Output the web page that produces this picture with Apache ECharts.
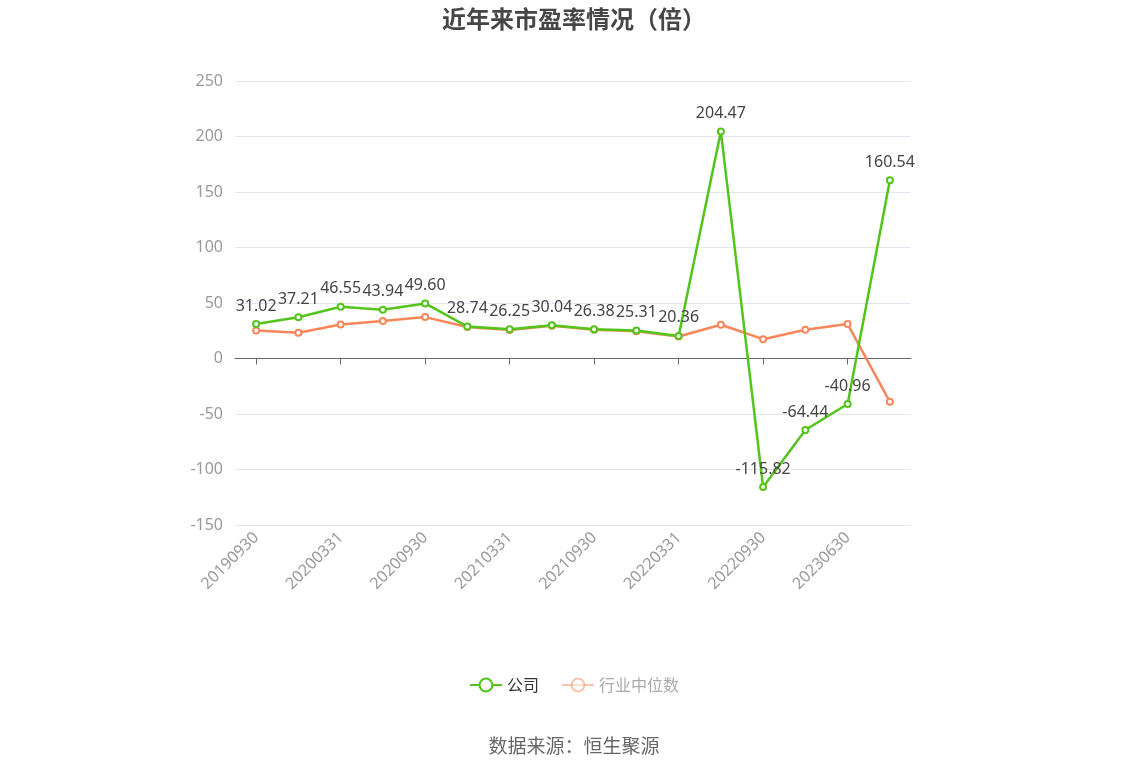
<!DOCTYPE html>
<html><head><meta charset="utf-8">
<script src="https://cdn.jsdelivr.net/npm/echarts@6/dist/echarts.min.js"></script>
<style>html,body{margin:0;padding:0;background:#fff}#c{width:1148px;height:776px}</style>
</head><body><div id="c"></div>
<script>
const categories = ['20190930','20191231','20200331','20200630','20200930','20201231','20210331','20210630','20210930','20211231','20220331','20220630','20220930','20230331','20230630','20230930'];
const companyPE = [31.02,37.21,46.55,43.94,49.60,28.74,26.25,30.04,26.38,25.31,20.36,204.47,-115.82,-64.44,-40.96,160.54];
const industryPE = [25.3,23.2,30.7,33.7,37.3,28.3,25.6,29.5,25.9,24.6,19.8,30.4,17.4,25.9,31.0,-39.0];
const yTicks = {min:-150, max:250, interval:50};

const chart = echarts.init(document.getElementById('c'));
chart.setOption({
  animation:false,
  title:{text:'近年来市盈率情况（倍）',left:'center',top:2,textStyle:{fontSize:24,fontWeight:'bold',color:'#464646',fontFamily:'Noto Sans CJK SC'}},
  grid:{left:235,right:237,top:81,bottom:251,containLabel:false},
  legend:{top:672,left:'center',itemWidth:32,itemHeight:16,itemGap:22,
    textStyle:{fontSize:16,color:'#333',fontFamily:'Noto Sans CJK SC'},
    data:[{name:'公司'},{name:'行业中位数',itemStyle:{opacity:0.5},lineStyle:{opacity:0.5},textStyle:{color:'#aaa'}}]},
  xAxis:{type:'category',data:categories,boundaryGap:true,
    axisLine:{onZero:true,lineStyle:{color:'#666'}},
    axisTick:{show:true,alignWithLabel:true,interval:1,length:6,lineStyle:{color:'#666'}},
    axisLabel:{interval:1,rotate:45,color:'#999',fontSize:16,margin:10,fontFamily:'Noto Sans'}},
  yAxis:{type:'value',min:yTicks.min,max:yTicks.max,interval:yTicks.interval,
    axisLine:{show:false},axisTick:{show:false},
    axisLabel:{color:'#999',fontSize:16,margin:12,fontFamily:'Noto Sans'},
    splitLine:{lineStyle:{color:'#e4e7ef'}}},
  series:[
    {name:'公司',type:'line',data:companyPE,symbol:'emptyCircle',symbolSize:6,
      itemStyle:{color:'#52c41a'},lineStyle:{width:2.5,color:'#52c41a'},
      label:{show:true,position:'top',distance:6,color:'#444',fontSize:16,fontFamily:'Noto Sans',formatter:p=>p.value.toFixed(2)},z:3},
    {name:'行业中位数',type:'line',data:industryPE,symbol:'emptyCircle',symbolSize:6,
      itemStyle:{color:'#f7875a'},lineStyle:{width:2.5,color:'#f7875a'},z:2}
  ],
  graphic:[{type:'text',left:'center',top:736,style:{text:'数据来源：恒生聚源',fontSize:19,fill:'#666',fontFamily:'Noto Sans CJK SC'}}]
});
</script></body></html>
